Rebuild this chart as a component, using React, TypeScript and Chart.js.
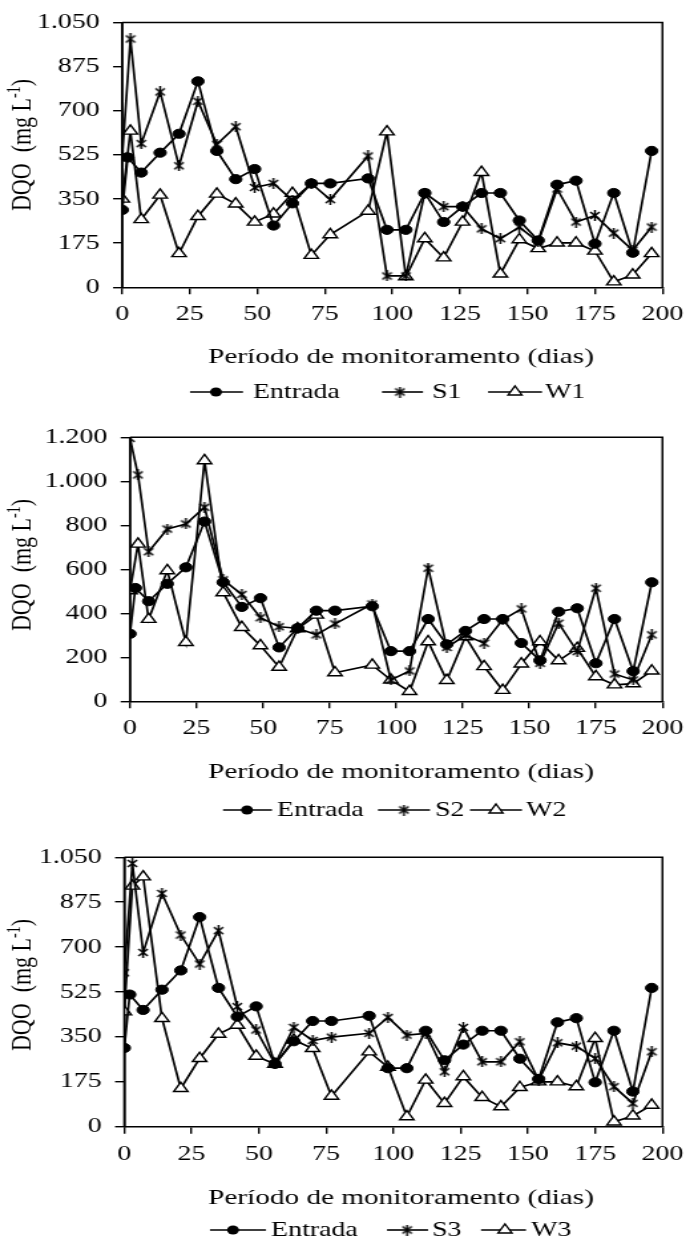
import React, { useEffect, useRef } from "react";
import { Chart, registerables } from "chart.js";

Chart.register(...registerables);

// ---------- data ----------
const DAYS_IN = [0, 2, 7, 14, 21, 28, 35, 42, 49, 56, 63, 70, 77, 91, 98, 105, 112, 119, 126, 133, 140, 147, 154, 161, 168, 175, 182, 189, 196];
const DAYS_OUT = [0, 3, 7, 14, 21, 28, 35, 42, 49, 56, 63, 70, 77, 91, 98, 105, 112, 119, 126, 133, 140, 147, 154, 161, 168, 175, 182, 189, 196];

const ENTRADA = [307, 515, 455, 534, 609, 817, 541, 429, 469, 245, 333, 412, 412, 432, 228, 228, 374, 259, 320, 374, 374, 265, 186, 407, 423, 173, 374, 137, 541];

const S1 = [521, 985, 570, 775, 482, 738, 567, 637, 396, 412, 345, 412, 348, 521, 45, 45, 374, 320, 320, 232, 193, 239, 180, 390, 259, 285, 215, 147, 239];
const W1 = [350, 620, 269, 366, 134, 281, 370, 331, 259, 291, 373, 127, 209, 302, 617, 42, 193, 117, 259, 456, 53, 189, 154, 176, 176, 144, 22, 49, 134];

const S2 = [1195, 1029, 680, 783, 806, 882, 552, 486, 380, 339, 332, 302, 352, 442, 97, 138, 605, 245, 300, 264, 370, 420, 173, 355, 226, 514, 124, 97, 302];
const W2 = [503, 715, 373, 594, 268, 1094, 494, 336, 253, 155, 330, 392, 130, 165, 97, 45, 271, 95, 294, 158, 50, 170, 271, 185, 241, 112, 75, 80, 138];

const S3 = [600, 1026, 679, 909, 747, 634, 764, 468, 377, 245, 387, 336, 349, 364, 426, 357, 364, 214, 387, 253, 253, 331, 182, 327, 314, 266, 156, 91, 292];
const W3 = [448, 938, 974, 422, 149, 266, 361, 396, 275, 244, 338, 305, 119, 292, 232, 39, 182, 91, 195, 114, 78, 153, 175, 175, 156, 344, 19, 42, 84];

const X_TICKS = [0, 25, 50, 75, 100, 125, 150, 175, 200];
const X_LABELS = ["0", "25", "50", "75", "100", "125", "150", "175", "200"];
const Y_TICKS_A = [0, 175, 350, 525, 700, 875, 1050];
const Y_LABELS_A = ["0", "175", "350", "525", "700", "875", "1.050"];
const Y_TICKS_B = [0, 200, 400, 600, 800, 1000, 1200];
const Y_LABELS_B = ["0", "200", "400", "600", "800", "1.000", "1.200"];

const X_TITLE = "Período de monitoramento (dias)";
const Y_TITLE_MAIN = "DQO  (mg L";
const Y_TITLE_SUP = "-1";
const Y_TITLE_END = ")";

// ---------- layout ----------
const IW = 522; // internal canvas width, stretched to 694 css px
const K = 694 / IW;
const FONT = "'Liberation Serif', 'Times New Roman', serif";
const XH = 44;

type Marker = "circle" | "star" | "triangle";
type Series = { label: string; days: number[]; data: number[]; marker: Marker };
type LegendItem = { line: [number, number]; marker: number; text: number };
type Panel = {
  top: number;
  height: number;
  area: [number, number, number, number];
  yTicks: number[];
  yLabels: string[];
  series: Series[];
  titleY: number;
  legendY: number;
  yTitleY: number;
  legend: LegendItem[];
};

const PANELS: Panel[] = [
  {
    top: 0,
    height: 410,
    area: [122.3, 663.7, 20.7, 287.3],
    yTicks: Y_TICKS_A,
    yLabels: Y_LABELS_A,
    series: [
      { label: "Entrada", days: DAYS_IN, data: ENTRADA, marker: "circle" },
      { label: "S1", days: DAYS_OUT, data: S1, marker: "star" },
      { label: "W1", days: DAYS_OUT, data: W1, marker: "triangle" },
    ],
    titleY: 357,
    legendY: 392,
    yTitleY: 145,
    legend: [
      { line: [190, 243], marker: 216, text: 253 },
      { line: [382, 423], marker: 400, text: 432 },
      { line: [488, 542], marker: 515, text: 545 },
    ],
  },
  {
    top: 410,
    height: 420,
    area: [130, 673.3, 27.3, 291.3],
    yTicks: Y_TICKS_B,
    yLabels: Y_LABELS_B,
    series: [
      { label: "Entrada", days: DAYS_IN, data: ENTRADA, marker: "circle" },
      { label: "S2", days: DAYS_OUT, data: S2, marker: "star" },
      { label: "W2", days: DAYS_OUT, data: W2, marker: "triangle" },
    ],
    titleY: 362,
    legendY: 400,
    yTitleY: 155,
    legend: [
      { line: [223, 272], marker: 247, text: 277 },
      { line: [378, 430], marker: 404, text: 435 },
      { line: [470, 522], marker: 496, text: 526 },
    ],
  },
  {
    top: 830,
    height: 413,
    area: [124.3, 671.7, 27.3, 296.7],
    yTicks: Y_TICKS_A,
    yLabels: Y_LABELS_A,
    series: [
      { label: "Entrada", days: DAYS_IN, data: ENTRADA, marker: "circle" },
      { label: "S3", days: DAYS_OUT, data: S3, marker: "star" },
      { label: "W3", days: DAYS_OUT, data: W3, marker: "triangle" },
    ],
    titleY: 368,
    legendY: 400,
    yTitleY: 155,
    legend: [
      { line: [210, 266], marker: 233, text: 271 },
      { line: [387, 428], marker: 407, text: 432 },
      { line: [481, 526], marker: 505, text: 531 },
    ],
  },
];

function makeStar(): HTMLCanvasElement {
  const c = document.createElement("canvas");
  c.width = 9;
  c.height = 11;
  const g = c.getContext("2d")!;
  g.strokeStyle = "#000";
  g.lineWidth = 1.5;
  g.beginPath();
  g.moveTo(1, 2);
  g.lineTo(8, 9);
  g.moveTo(8, 2);
  g.lineTo(1, 9);
  g.moveTo(4.5, 0);
  g.lineTo(4.5, 11);
  g.stroke();
  return c;
}

function drawMarker(ctx: CanvasRenderingContext2D, m: Marker, x: number, y: number, star: HTMLCanvasElement) {
  ctx.save();
  ctx.strokeStyle = "#000";
  ctx.fillStyle = "#000";
  if (m === "circle") {
    ctx.beginPath();
    ctx.arc(x, y, 4.5, 0, Math.PI * 2);
    ctx.fill();
  } else if (m === "triangle") {
    const r = 6;
    ctx.beginPath();
    let rad = 0;
    ctx.moveTo(x + Math.sin(rad) * r, y - Math.cos(rad) * r);
    rad += (2 * Math.PI) / 3;
    ctx.lineTo(x + Math.sin(rad) * r, y - Math.cos(rad) * r);
    rad += (2 * Math.PI) / 3;
    ctx.lineTo(x + Math.sin(rad) * r, y - Math.cos(rad) * r);
    ctx.closePath();
    ctx.fillStyle = "#fff";
    ctx.fill();
    ctx.lineWidth = 1.4;
    ctx.stroke();
  } else {
    ctx.drawImage(star, x - star.width / 2, y - star.height / 2);
  }
  ctx.restore();
}

function PanelChart({ cfg }: { cfg: Panel }) {
  const ref = useRef<HTMLCanvasElement | null>(null);

  useEffect(() => {
    const canvas = ref.current;
    if (!canvas) return;
    const star = makeStar();
    const [aL, aR, aT, aB] = cfg.area;

    const datasets = cfg.series.map((s) => ({
      label: s.label,
      data: s.days.map((d, i) => ({ x: d, y: s.data[i] })),
      borderColor: "#000",
      borderWidth: 1.7,
      backgroundColor: "#000",
      pointStyle: s.marker === "star" ? star : s.marker,
      pointRadius: s.marker === "circle" ? 4.6 : s.marker === "triangle" ? 6.2 : 5,
      pointBackgroundColor: s.marker === "triangle" ? "#fff" : "#000",
      pointBorderColor: "#000",
      pointBorderWidth: s.marker === "triangle" ? 1.4 : 1,
      fill: false,
      tension: 0,
    }));

    const framePlugin = {
      id: "frame" + cfg.top,
      afterDraw(chart: any) {
        const ctx: CanvasRenderingContext2D = chart.ctx;
        const a = chart.chartArea;
        ctx.save();
        ctx.strokeStyle = "#000";
        ctx.lineWidth = 1.5;
        ctx.beginPath();
        ctx.moveTo(a.left, a.top);
        ctx.lineTo(a.right, a.top);
        ctx.lineTo(a.right, a.bottom);
        ctx.stroke();
        ctx.lineWidth = 1.6;
        ctx.beginPath();
        ctx.moveTo(a.left, a.top);
        ctx.lineTo(a.left, a.bottom);
        ctx.stroke();

        ctx.fillStyle = "#000";
        ctx.font = `22px ${FONT}`;
        ctx.textAlign = "center";
        ctx.textBaseline = "middle";
        ctx.fillText(X_TITLE, 401 / K, cfg.titleY);

        // y title (rotated, with superscript)
        ctx.save();
        ctx.translate(16, cfg.yTitleY);
        ctx.rotate(-Math.PI / 2);
        ctx.font = `22px ${FONT}`;
        const w1 = ctx.measureText(Y_TITLE_MAIN).width;
        const w3 = ctx.measureText(Y_TITLE_END).width;
        ctx.font = `14px ${FONT}`;
        const w2 = ctx.measureText(Y_TITLE_SUP).width;
        let sx = -(w1 + w2 + w3) / 2;
        ctx.textAlign = "left";
        ctx.textBaseline = "alphabetic";
        ctx.font = `22px ${FONT}`;
        ctx.fillText(Y_TITLE_MAIN, sx, 7);
        sx += w1;
        ctx.font = `14px ${FONT}`;
        ctx.fillText(Y_TITLE_SUP, sx, -1);
        sx += w2;
        ctx.font = `22px ${FONT}`;
        ctx.fillText(Y_TITLE_END, sx, 7);
        ctx.restore();

        // legend
        cfg.legend.forEach((it, i) => {
          const s = cfg.series[i];
          ctx.strokeStyle = "#000";
          ctx.lineWidth = 1.6;
          ctx.beginPath();
          ctx.moveTo(it.line[0] / K, cfg.legendY);
          ctx.lineTo(it.line[1] / K, cfg.legendY);
          ctx.stroke();
          drawMarker(ctx, s.marker, it.marker / K, cfg.legendY, star);
          ctx.fillStyle = "#000";
          ctx.font = `21px ${FONT}`;
          ctx.textAlign = "left";
          ctx.textBaseline = "middle";
          ctx.fillText(s.label, it.text / K, cfg.legendY);
        });
        ctx.restore();
      },
    };

    const tickFont = { family: FONT, size: 21 };
    const chart = new Chart(canvas, {
      type: "line",
      data: { datasets: datasets as any },
      options: {
        responsive: false,
        animation: false,
        devicePixelRatio: 1,
        layout: {
          padding: { left: 0, right: IW - aR / K, top: aT, bottom: cfg.height - aB - XH },
        },
        plugins: { legend: { display: false }, tooltip: { enabled: false } },
        scales: {
          x: {
            type: "linear",
            min: 0,
            max: 200,
            afterBuildTicks: (s: any) => {
              s.ticks = X_TICKS.map((v) => ({ value: v }));
            },
            afterFit: (s: any) => {
              s.height = XH;
            },
            ticks: {
              color: "#000",
              font: tickFont,
              padding: 8,
              autoSkip: false,
              maxRotation: 0,
              callback: (_v: any, i: number) => X_LABELS[i],
            },
            grid: { drawOnChartArea: false, drawTicks: true, tickLength: 7, color: "#000", lineWidth: 1.4 },
            border: { display: true, color: "#000", width: 1.6 },
          },
          y: {
            type: "linear",
            min: 0,
            max: cfg.yTicks[cfg.yTicks.length - 1],
            afterBuildTicks: (s: any) => {
              s.ticks = cfg.yTicks.map((v) => ({ value: v }));
            },
            afterFit: (s: any) => {
              s.width = aL / K;
            },
            ticks: {
              color: "#000",
              font: tickFont,
              padding: 10,
              callback: (_v: any, i: number) => cfg.yLabels[i],
            },
            grid: { drawOnChartArea: false, drawTicks: true, tickLength: 7, color: "#000", lineWidth: 1.4 },
            border: { display: true, color: "#000", width: 1.6 },
          },
        },
      } as any,
      plugins: [framePlugin],
    });

    return () => chart.destroy();
  }, [cfg]);

  return (
    <canvas
      ref={ref}
      width={IW}
      height={cfg.height}
      style={{ position: "absolute", left: 0, top: cfg.top, width: "694px", height: cfg.height + "px" }}
    />
  );
}

export default function App() {
  return (
    <div style={{ position: "absolute", left: 0, top: 0, width: 694, height: 1243, background: "#fff", overflow: "hidden" }}>
      {PANELS.map((p) => (
        <PanelChart key={p.top} cfg={p} />
      ))}
    </div>
  );
}
